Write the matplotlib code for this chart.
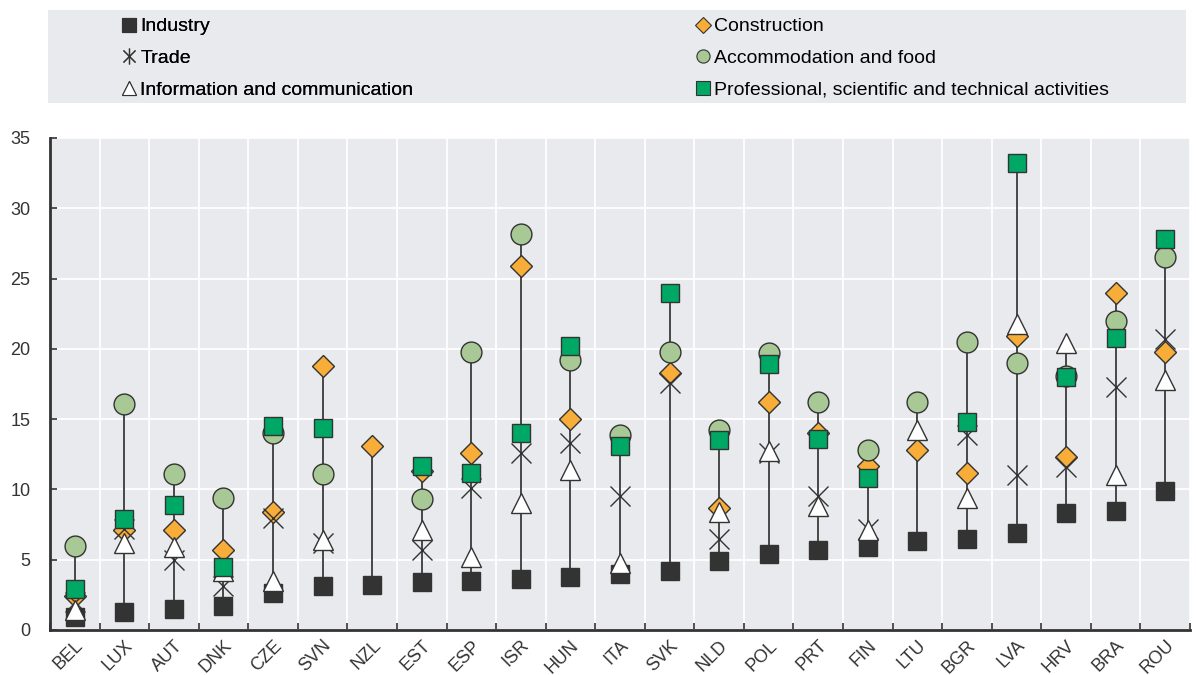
import matplotlib
matplotlib.use('Agg')
import matplotlib.pyplot as plt
from matplotlib.lines import Line2D
from matplotlib.patches import Rectangle
from matplotlib.legend_handler import HandlerTuple
from matplotlib import font_manager
import numpy as np

nan = np.nan

countries = ["BEL", "LUX", "AUT", "DNK", "CZE", "SVN", "NZL", "EST", "ESP", "ISR", "HUN", "ITA",
             "SVK", "NLD", "POL", "PRT", "FIN", "LTU", "BGR", "LVA", "HRV", "BRA", "ROU"]

industry = [0.9, 1.3, 1.5, 1.7, 2.6, 3.1, 3.2, 3.4, 3.5, 3.6, 3.8, 4.0,
            4.2, 4.9, 5.4, 5.7, 5.9, 6.3, 6.5, 6.9, 8.3, 8.5, 9.9]
construction = [2.4, 7.1, 7.1, 5.7, 8.4, 18.8, 13.1, 11.3, 12.6, 25.9, 15.0, nan,
                18.3, 8.7, 16.2, 14.0, 11.7, 12.8, 11.2, 20.9, 12.3, 24.0, 19.8]
trade = [2.0, 7.2, 5.0, 3.1, 8.0, 6.2, nan, 5.7, 10.1, 12.6, 13.3, 9.5,
         17.6, 6.5, 12.6, 9.5, 7.2, nan, 13.9, 11.0, 11.6, 17.3, 20.7]
accommodation = [6.0, 16.1, 11.1, 9.4, 14.0, 11.1, nan, 9.3, 19.8, 28.2, 19.2, 13.9,
                 19.8, 14.2, 19.7, 16.2, 12.8, 16.2, 20.5, 19.0, 18.1, 22.0, 26.5]
information = [1.4, 6.2, 5.9, 4.2, 3.5, 6.4, nan, 7.1, 5.2, 9.0, 11.4, 4.8,
               nan, 8.4, 12.7, 8.8, 7.1, 14.2, 9.4, 21.8, 20.4, 11.0, 17.8]
professional = [2.9, 7.9, 8.9, 4.5, 14.5, 14.4, nan, 11.7, 11.2, 14.0, 20.2, 13.1,
                24.0, 13.5, 18.9, 13.6, 10.8, nan, 14.8, 33.2, 18.0, 20.8, 27.8]

y_ticks = [0, 5, 10, 15, 20, 25, 30, 35]

# narrow face for the legend if available
installed = {f.name for f in font_manager.fontManager.ttflist}
narrow = "Liberation Sans Narrow" if "Liberation Sans Narrow" in installed else "Liberation Sans"
plt.rcParams['font.family'] = ['Liberation Sans', 'DejaVu Sans']

DARK = "#333333"
BG = "#e9eaed"

# (label, values, marker, face, size)
series = [
    ("Industry", industry, "s", DARK, 13),
    ("Construction", construction, "D", "#f8ad38", 11),
    ("Trade", trade, "x", DARK, 14),
    ("Accommodation and food", accommodation, "o", "#a8c895", 15),
    ("Information and communication", information, "^", "white", 15),
    ("Professional, scientific and technical activities", professional, "s", "#00a865", 13),
]

fig = plt.figure(figsize=(11.96, 6.75), dpi=100)
ax = fig.add_axes([50 / 1196, 1 - 630 / 675, 1140 / 1196, (630 - 138) / 675])
ax.set_facecolor(BG)

x = np.arange(len(countries))

# range lines from min to max of each country
allv = np.array([industry, construction, trade, accommodation, information, professional])
lo = np.nanmin(allv, axis=0)
hi = np.nanmax(allv, axis=0)
ax.vlines(x, lo, hi, color="#3a3a3a", lw=1.3, zorder=2)

handles = []
for i, (lab, vals, mk, fc, ms) in enumerate(series):
    if mk == "x":
        ax.plot(x, vals, ls="none", marker="x", ms=ms, mew=1.0, color=DARK, zorder=3 + i)
        # legend symbol: cross with the range line through it
        h = (Line2D([], [], ls="none", marker="x", ms=9, mew=0.9, color=DARK),
             Line2D([], [], ls="none", marker="|", ms=11, mew=0.9, color=DARK))
    else:
        ax.plot(x, vals, ls="none", marker=mk, ms=ms, mfc=fc, mec=DARK, mew=1.0, zorder=3 + i)
        h = Line2D([], [], ls="none", marker=mk, ms=9.5 if mk != "D" else 8,
                   mfc=fc, mec=DARK, mew=0.8)
    handles.append((h, lab))

ax.set_xlim(-0.5, len(countries) - 0.5)
ax.set_ylim(0, 35)
ax.set_yticks(y_ticks)
ax.set_yticklabels([str(v) for v in y_ticks], fontsize=13, color=DARK)
ax.set_xticks(x)
ax.set_xticklabels(countries, rotation=45, ha="right", va="top", rotation_mode="anchor",
                   fontsize=13, color=DARK)
ax.set_xticks(np.arange(len(countries) + 1) - 0.5, minor=True)
ax.tick_params(axis="x", which="major", length=0, pad=5)
ax.tick_params(axis="x", which="minor", direction="in", length=5, width=1.2, color=DARK)
ax.tick_params(axis="y", direction="in", length=5, width=1.2, color=DARK, pad=14)

ax.grid(True, axis="y", which="major", color="white", lw=1.3, zorder=0)
ax.grid(True, axis="x", which="minor", color="white", lw=1.3, zorder=0)
ax.grid(False, axis="x", which="major")
ax.set_axisbelow(True)

for s in ["top", "right"]:
    ax.spines[s].set_visible(False)
for s in ["left", "bottom"]:
    ax.spines[s].set_color(DARK)
    ax.spines[s].set_linewidth(2)

# legend panel
fig.patches.append(Rectangle((48 / 1196, 1 - 103 / 675), 1138 / 1196, 93 / 675,
                             transform=fig.transFigure, facecolor=BG, edgecolor="none", zorder=0))

leg_kw = dict(frameon=False, loc="upper left", handlelength=0.9, handletextpad=0.15,
              labelspacing=0.72, borderaxespad=0, prop={"family": narrow, "size": 14},
              handler_map={tuple: HandlerTuple(ndivide=1, pad=0)})
left = handles[0:1] + handles[2:3] + handles[4:5]
right = handles[1:2] + handles[3:4] + handles[5:6]
leg1 = fig.legend([h for h, _ in left], [l for _, l in left],
                  bbox_to_anchor=(112 / 1196, 1 - 10 / 675), **leg_kw)
fig.add_artist(leg1)
fig.legend([h for h, _ in right], [l for _, l in right],
           bbox_to_anchor=(686 / 1196, 1 - 10 / 675), **leg_kw)

fig.savefig("out.png", dpi=100)
plt.close()
